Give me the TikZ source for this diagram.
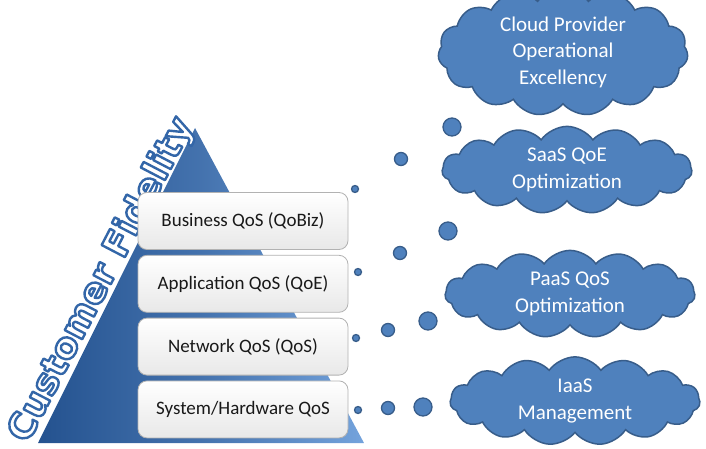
\documentclass[tikz,border=0pt]{standalone}
\usepackage{fontspec}
\setmainfont{Carlito}
\newfontfamily\fidfont{DejaVu Sans}
\usetikzlibrary{shapes.symbols,positioning}
\definecolor{cloudfill}{HTML}{4F81BD}
\definecolor{cloudline}{HTML}{385D8A}
\definecolor{pyrdark}{HTML}{24528F}
\definecolor{pyrlight}{HTML}{74A3DC}
% outlined letters: white fill, blue stroke
\newcommand{\outlined}[1]{\special{pdf:literal direct 0.20 0.40 0.66 RG 2.4 w 1 j 2 Tr}#1\special{pdf:literal direct 0 Tr}}

\begin{document}
\begin{tikzpicture}[x=1pt, y=-1pt,
  layer/.style={draw=gray!60, line width=0.8pt, rounded corners=9pt,
    top color=white, bottom color=gray!18, minimum width=210pt,
    minimum height=57pt, font=\fontsize{19}{22}\selectfont, text=black!90},
  bubble/.style={cloud, cloud puffs=15, cloud puff arc=110, cloud ignores aspect,
    draw=cloudline, line width=1.5pt, fill=cloudfill, text=white, align=center,
    minimum width=250pt, minimum height=84pt,
    font=\fontsize{21}{26.5}\selectfont},
  dot/.style={circle, draw=cloudline, line width=1.3pt, fill=cloudfill, inner sep=0pt},
  fidtext/.style={rotate=62.5, text=white, font=\fidfont\bfseries\fontsize{36}{36}\selectfont}]
\useasboundingbox (0,0) rectangle (706,449);

% pyramid
\path[left color=pyrdark, right color=pyrlight, middle color=pyrdark!60!pyrlight]
  (38,443) coordinate (pl) -- (195,128) coordinate (pt) -- (364,443) coordinate (pr) -- cycle;

% title along the left edge
\node[fidtext] (fid) at (102,280) {\outlined{Customer Fidelity}};

% QoS layers
\node[layer] (biz) at (243,221) {Business QoS (QoBiz)};
\node[layer, below=5pt of biz] (app) {Application QoS (QoE)};
\node[layer, below=5pt of app] (net) {Network QoS (QoS)};
\node[layer, below=5pt of net] (sys) {System/Hardware QoS};

% clouds
\node[bubble] (cpo) at (563,52) {Cloud Provider\\Operational\\Excellency};
\node[bubble] (saas) at (567,170) {SaaS QoE\\Optimization};
\node[bubble] (paas) at (570,294) {PaaS QoS\\Optimization};
\node[bubble] (iaas) at (575,401) {IaaS\\Management};

% thought dots
\node[dot, minimum size=7pt] (d1a) at (355,189) {};
\node[dot, minimum size=13pt] (d1b) at (401,159) {};
\node[dot, minimum size=18pt] (d1c) at (452,127) {};
\node[dot, minimum size=7pt] (d2a) at (358,272) {};
\node[dot, minimum size=13pt] (d2b) at (400,253) {};
\node[dot, minimum size=18pt] (d2c) at (448,231) {};
\node[dot, minimum size=7pt] (d3a) at (356,338) {};
\node[dot, minimum size=13pt] (d3b) at (388,330) {};
\node[dot, minimum size=18pt] (d3c) at (428,321) {};
\node[dot, minimum size=7pt] (d4a) at (358,410) {};
\node[dot, minimum size=13pt] (d4b) at (388,408) {};
\node[dot, minimum size=18pt] (d4c) at (423,407) {};
\end{tikzpicture}
\end{document}
